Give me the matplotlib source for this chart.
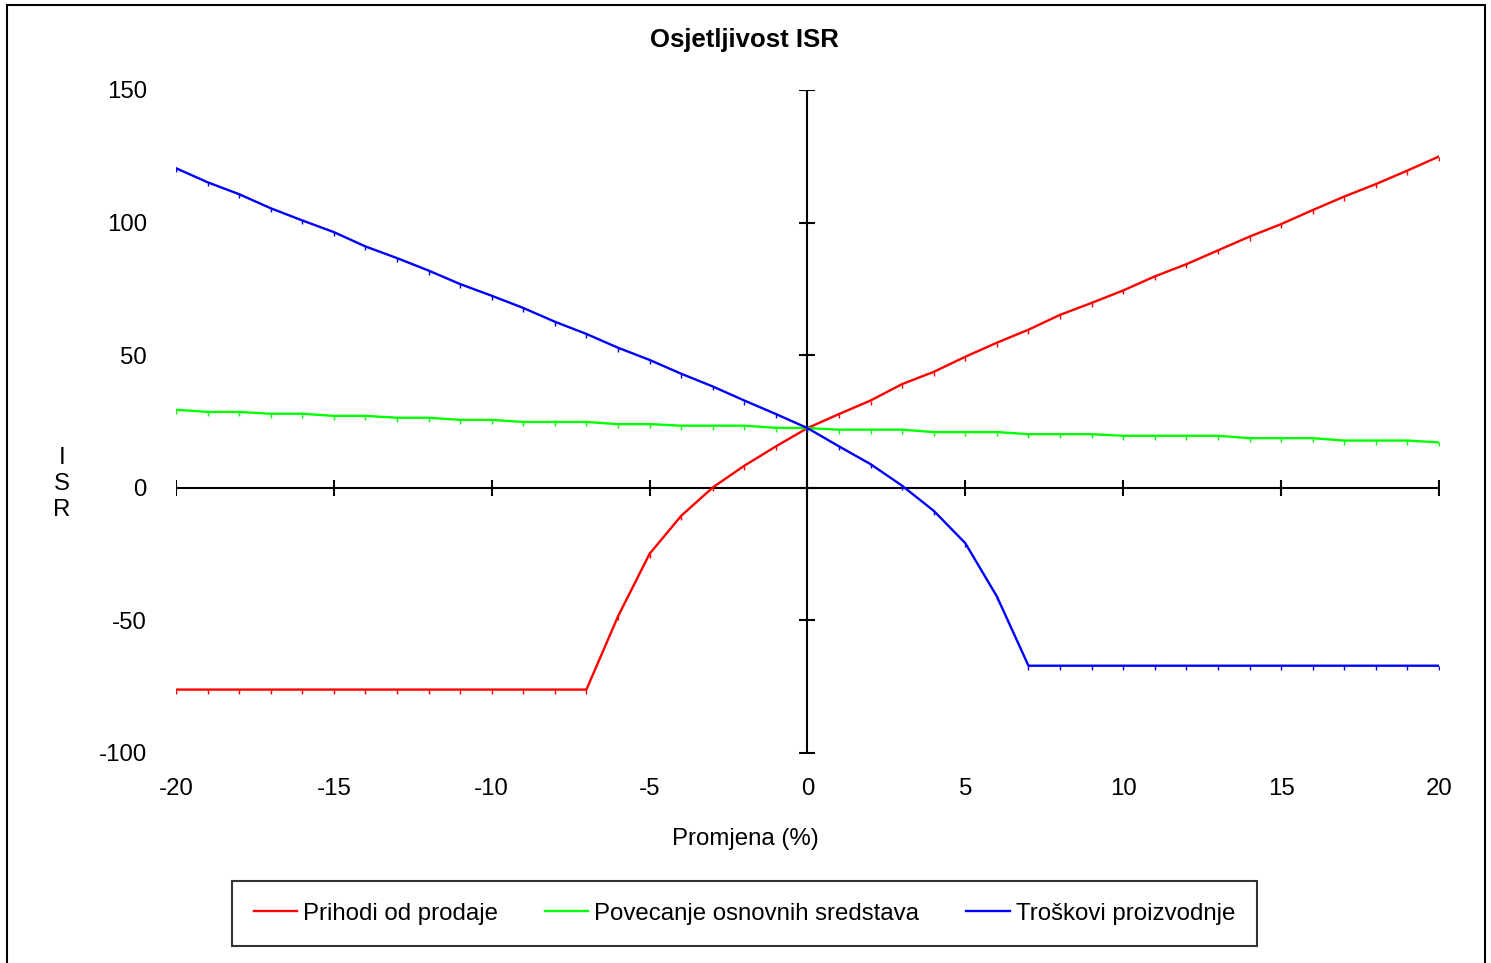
import matplotlib.pyplot as plt
from matplotlib.patches import Rectangle

plt.rcParams['font.family'] = ['Liberation Sans', 'DejaVu Sans']
plt.rcParams['axes.unicode_minus'] = False

promjena = list(range(-20, 21))

# ISR vrijednosti ocitane sa grafa
prihodi = [-76.1, -76.1, -76.1, -76.1, -76.1, -76.1, -76.1, -76.1, -76.1, -76.1,
           -76.1, -76.1, -76.1, -76.1, -48.5, -24.9, -10.6, 0.1, 8.3, 15.6,
           22.5, 27.8, 32.9, 39.1, 43.7, 49.4, 54.7, 59.6, 65.2, 69.7,
           74.4, 79.7, 84.3, 89.5, 94.7, 99.4, 104.7, 109.8, 114.5, 119.6, 124.9]
sredstva = [29.4, 28.6, 28.6, 27.9, 27.9, 27.1, 27.1, 26.4, 26.4, 25.6,
            25.6, 24.8, 24.8, 24.8, 24.0, 24.0, 23.4, 23.4, 23.4, 22.6,
            22.5, 21.9, 21.9, 21.9, 21.0, 21.0, 21.0, 20.2, 20.2, 20.2,
            19.6, 19.6, 19.6, 19.6, 18.7, 18.7, 18.7, 17.8, 17.8, 17.8, 17.1]
troskovi = [120.5, 115.2, 110.7, 105.4, 100.8, 96.4, 91.0, 86.6, 81.9, 76.8,
            72.4, 67.8, 62.6, 58.0, 52.8, 48.2, 43.0, 38.2, 32.9, 27.8,
            22.5, 15.6, 8.9, 0.75, -8.7, -20.9, -41.0, -67.1, -67.1, -67.1,
            -67.1, -67.1, -67.1, -67.1, -67.1, -67.1, -67.1, -67.1, -67.1, -67.1, -67.1]

xticks = [-20, -15, -10, -5, 0, 5, 10, 15, 20]
yticks = [-100, -50, 0, 50, 100, 150]

fs = 17.3

fig = plt.figure(figsize=(14.91, 9.63), dpi=100)
ax = fig.add_axes([0.118, 0.2181, 0.8471, 0.6885])

# okvir oko cijele slike
fig.patches.append(Rectangle((0.0047, -0.01), 0.9913, 1.0048, transform=fig.transFigure,
                             fill=False, edgecolor='black', linewidth=1.5))

ax.plot(promjena, prihodi, color='#ff0000', lw=1.7, marker=3, ms=3, label='Prihodi od prodaje')
ax.plot(promjena, sredstva, color='#00ff00', lw=1.7, marker=3, ms=3, label='Povecanje osnovnih sredstava')
ax.plot(promjena, troskovi, color='#0000ff', lw=1.7, marker=3, ms=3, label='Troškovi proizvodnje')

# osi kroz nulu
ax.axhline(0, color='black', lw=1.5, zorder=1)
ax.axvline(0, color='black', lw=1.5, zorder=1)
ax.plot(xticks, [0] * len(xticks), '|', color='black', ms=12, mew=1.5, zorder=1)
ax.plot([0] * len(yticks), yticks, '_', color='black', ms=12, mew=1.5, zorder=1)

ax.set_xlim(-20, 20)
ax.set_ylim(-100, 150)
for s in ax.spines.values():
    s.set_visible(False)
ax.set_xticks(xticks)
ax.set_yticks(yticks)
ax.tick_params(length=0, labelsize=fs)
ax.tick_params(axis='x', pad=18)
ax.tick_params(axis='y', pad=21)
for lbl in ax.get_yticklabels():
    lbl.set_y(lbl.get_position()[1])
    lbl.set_va('center_baseline')

ax.set_xlabel('Promjena (%)', fontsize=fs)
ax.xaxis.set_label_coords(0.4505, -0.113)
ax.set_ylabel('I\nS\nR', fontsize=fs, rotation=0, linespacing=1.25, va='center', ha='center')
ax.yaxis.set_label_coords(-0.0905, 0.4057)

fig.text(0.499, 0.958, 'Osjetljivost ISR', fontsize=18.5, fontweight='bold', ha='center', va='center')

leg = fig.legend(loc='center', bbox_to_anchor=(0.4993, 0.0514), ncol=3, fontsize=fs,
                 frameon=True, fancybox=False, edgecolor='black', handlelength=1.8,
                 handletextpad=0.25, columnspacing=1.95, borderpad=0.9)
leg.get_frame().set_linewidth(1.5)
for ln in leg.get_lines():
    ln.set_marker('')

fig.savefig('out.png', dpi=100)
